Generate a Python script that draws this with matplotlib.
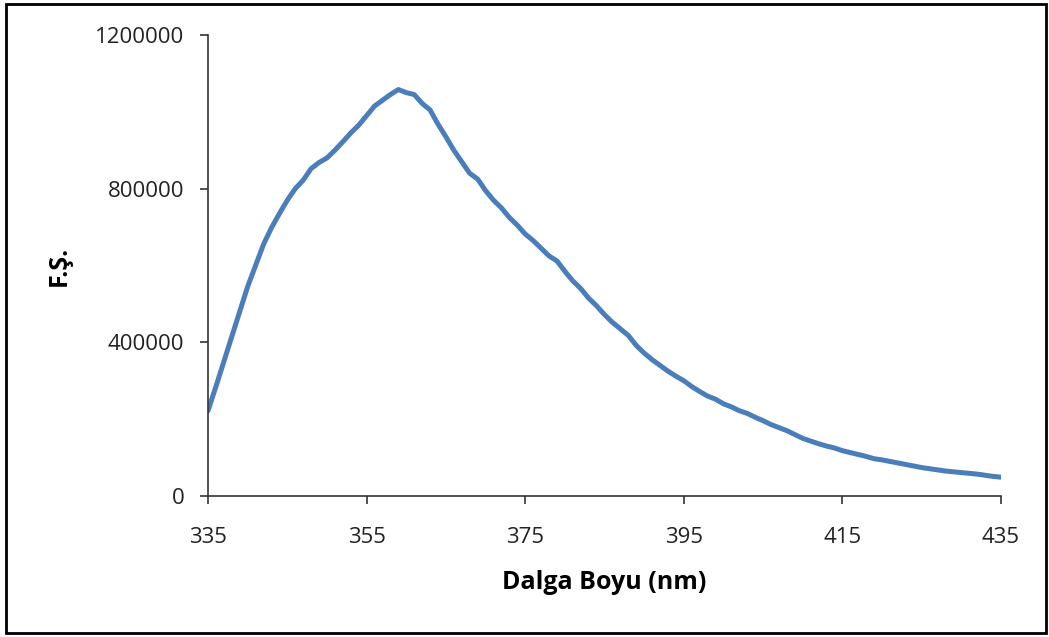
import matplotlib.pyplot as plt
from matplotlib.patches import Rectangle

# wavelength (nm) and fluorescence intensity
wavelength = list(range(335, 436))
intensity = [
    222000, 285000, 350000, 415000, 480000, 545000, 600000, 655000, 698000, 735000,
    770000, 800000, 822000, 852000, 868000, 880000, 900000, 922000, 945000, 965000,
    990000, 1015000, 1030000, 1045000, 1058000, 1050000, 1045000, 1022000, 1005000, 968000,
    935000, 900000, 870000, 840000, 825000, 795000, 770000, 750000, 725000, 705000,
    682000, 665000, 645000, 625000, 612000, 585000, 560000, 540000, 515000, 495000,
    472000, 452000, 435000, 418000, 392000, 372000, 355000, 340000, 325000, 312000,
    300000, 285000, 272000, 260000, 252000, 240000, 232000, 222000, 215000, 205000,
    196000, 186000, 178000, 170000, 160000, 150000, 143000, 136000, 130000, 125000,
    118000, 113000, 108000, 103000, 97000, 94000, 90000, 86000, 82000, 78000,
    74000, 71000, 68000, 65000, 63000, 61000, 59000, 57000, 54000, 51000,
    49000,
]

x_ticks = [335, 355, 375, 395, 415, 435]
y_ticks = [0, 400000, 800000, 1200000]

plt.rcParams['font.family'] = ['Open Sans', 'DejaVu Sans']

fig = plt.figure(figsize=(10.49, 6.37), dpi=100)
ax = fig.add_axes([208 / 1049, 1 - 496 / 637, (1001 - 208) / 1049, (496 - 35) / 637])

ax.plot(wavelength, intensity, color='#4a7ebb', linewidth=3.6, solid_capstyle='round')

ax.set_xlim(335, 435)
ax.set_ylim(0, 1200000)
ax.set_xticks(x_ticks)
ax.set_yticks(y_ticks)
ax.set_yticklabels([str(v) for v in y_ticks])

for side in ['top', 'right']:
    ax.spines[side].set_visible(False)
for side in ['left', 'bottom']:
    ax.spines[side].set_color('#333333')
    ax.spines[side].set_linewidth(1.2)

ax.tick_params(axis='both', direction='out', length=6, width=1.2, color='#333333',
               labelsize=16, labelcolor='#222222')
ax.tick_params(axis='x', pad=16)
ax.tick_params(axis='y', pad=11)

ax.set_xlabel('Dalga Boyu (nm)', fontsize=18, fontweight='bold')
ax.set_ylabel('F.Ş.', fontsize=18, fontweight='bold')
ax.xaxis.set_label_coords(0.5, -0.16)
ax.yaxis.set_label_coords(-0.1715, 0.5)

# outer border around the chart area
fig.patches.append(Rectangle((6 / 1049, 4 / 637), 1040 / 1049, 629 / 637,
                             transform=fig.transFigure, fill=False,
                             edgecolor='black', linewidth=2))

fig.savefig('out.png', dpi=100)
